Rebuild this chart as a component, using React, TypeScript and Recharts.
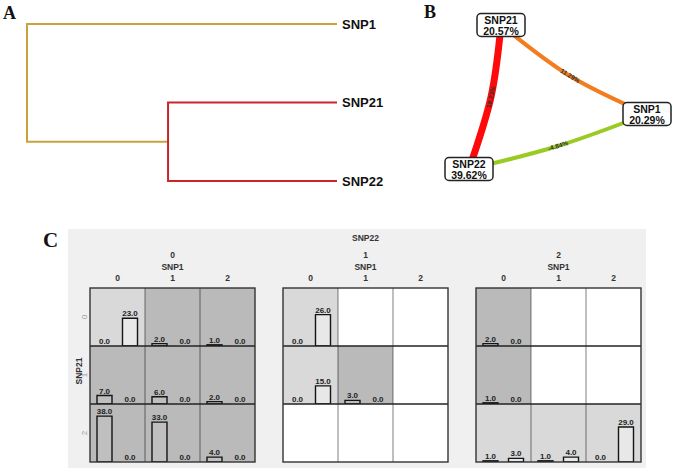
import {
  Bar,
  BarChart,
  Cell,
  ComposedChart,
  LabelList,
  Line,
  LineChart,
  Scatter,
  XAxis,
  YAxis,
} from "recharts";

// ---- A: dendrogram ----
const leafNames = ["SNP1", "SNP21", "SNP22"];
// distance at which (SNP21, SNP22) join, then the root join with SNP1
const joinHeights = [0.545, 1];

// ---- B: interaction graph ----
const nodeNames = ["SNP21", "SNP1", "SNP22"];
const nodeEntropy = ["20.57%", "20.29%", "39.62%"];
const edgePairs = [
  [0, 1],
  [0, 2],
  [2, 1],
];
const edgeGain = ["11.29%", "18.23%", "-4.84%"];

// graph layout (layout units, y grows downward)
const nodeLayout = [
  { x: 71, y: 25 },
  { x: 217, y: 114 },
  { x: 39, y: 169 },
];
const edgeBend = [
  { x: 140, y: 76 },
  { x: 61, y: 97 },
  { x: 128, y: 146 },
];
const EDGE_COLOR = ["#f27c1e", "#ff0a0a", "#9acb23"];
const EDGE_WIDTH = [4, 7, 4];

// ---- C: MDR cells, [SNP21 row][SNP1 col], null = no samples ----
const snp22Levels = ["0", "1", "2"];
const snp21Levels = ["0", "1", "2"];
const snp1Levels = ["0", "1", "2"];

const casesSnp22_0 = [
  [0, 2, 1],
  [7, 6, 2],
  [38, 33, 4],
];
const controlsSnp22_0 = [
  [23, 0, 0],
  [0, 0, 0],
  [0, 0, 0],
];
const casesSnp22_1 = [
  [0, null, null],
  [0, 3, null],
  [null, null, null],
];
const controlsSnp22_1 = [
  [26, null, null],
  [15, 0, null],
  [null, null, null],
];
const casesSnp22_2 = [
  [2, null, null],
  [1, null, null],
  [1, 1, 0],
];
const controlsSnp22_2 = [
  [0, null, null],
  [0, null, null],
  [3, 4, 29],
];

const cases = [casesSnp22_0, casesSnp22_1, casesSnp22_2];
const controls = [controlsSnp22_0, controlsSnp22_1, controlsSnp22_2];

const PANEL_LEFT = [90, 283, 476];
const GRID_TOP = 288;
const CELL_W = 55;
const CELL_H = 58;

const HIGH_RISK = "#bababa";
const LOW_RISK = "#d9d9d9";

const sum = (m: (number | null)[][][]) =>
  m.flat(2).reduce<number>((a, v) => a + (v ?? 0), 0);
const riskThreshold = sum(cases) / sum(controls);

function Dendrogram() {
  const inner = [
    { d: 0, y: 1 },
    { d: joinHeights[0], y: 1 },
    { d: joinHeights[0], y: 2 },
    { d: 0, y: 2 },
  ];
  const root = [
    { d: 0, y: 0 },
    { d: joinHeights[1], y: 0 },
    { d: joinHeights[1], y: 1.5 },
    { d: joinHeights[0], y: 1.5 },
  ];
  return (
    <div style={{ position: "absolute", left: 0, top: 0 }}>
      <LineChart width={400} height={200} margin={{ top: 24, right: 0, left: 27, bottom: 19 }}>
        <XAxis type="number" dataKey="d" domain={[0, 1]} reversed hide />
        <YAxis
          type="number"
          dataKey="y"
          domain={[0, 2]}
          reversed
          orientation="right"
          ticks={[0, 1, 2]}
          interval={0}
          tickFormatter={(i: number) => leafNames[i]}
          axisLine={false}
          tickLine={false}
          tickSize={0}
          tickMargin={5}
          width={63}
          tick={{ fill: "#111", fontSize: 13, fontWeight: "bold" }}
        />
        <Line data={root} dataKey="y" type="linear" stroke="#c9a23b" strokeWidth={2} dot={false} isAnimationActive={false} />
        <Line data={inner} dataKey="y" type="linear" stroke="#c8262c" strokeWidth={2} dot={false} isAnimationActive={false} />
      </LineChart>
    </div>
  );
}

function NodeBox(props: any) {
  const { cx, cy, payload } = props;
  const w = 48;
  const h = 23;
  return (
    <g>
      <rect x={cx - w / 2} y={cy - h / 2} width={w} height={h} rx={4} fill="#fff" stroke="#222" strokeWidth={1.5} />
      <text x={cx} y={cy - 1} textAnchor="middle" fontSize={10.5} fontWeight="bold" fill="#111">
        {payload.name}
      </text>
      <text x={cx} y={cy + 9.5} textAnchor="middle" fontSize={10.5} fontWeight="bold" fill="#111">
        {payload.entropy}
      </text>
    </g>
  );
}

function EdgeText(props: any) {
  const { cx, cy, payload } = props;
  let a = payload.angle;
  if (a > 90) a -= 180;
  if (a < -90) a += 180;
  return (
    <text
      x={cx}
      y={cy + 2}
      transform={`rotate(${a} ${cx} ${cy})`}
      textAnchor="middle"
      fontSize={6.5}
      fontWeight="bold"
      fill="#333"
    >
      {payload.label}
    </text>
  );
}

function Network() {
  const nodes = nodeNames.map((name, i) => ({ ...nodeLayout[i], name, entropy: nodeEntropy[i] }));
  const edgeLabels = edgePairs.map(([a, b], i) => {
    const p = nodeLayout[a];
    const q = nodeLayout[b];
    return {
      ...edgeBend[i],
      label: edgeGain[i],
      angle: (Math.atan2(q.y - p.y, q.x - p.x) * 180) / Math.PI,
    };
  });
  return (
    <div style={{ position: "absolute", left: 430, top: 0 }}>
      <ComposedChart width={246} height={200} margin={{ top: 0, right: 0, left: 0, bottom: 0 }}>
        <XAxis type="number" dataKey="x" domain={[0, 246]} hide />
        <YAxis type="number" dataKey="y" domain={[0, 200]} reversed hide />
        {edgePairs.map(([a, b], i) => (
          <Line
            key={i}
            data={[nodeLayout[a], edgeBend[i], nodeLayout[b]]}
            dataKey="y"
            type="natural"
            stroke={EDGE_COLOR[i]}
            strokeWidth={EDGE_WIDTH[i]}
            dot={false}
            isAnimationActive={false}
          />
        ))}
        <Scatter data={edgeLabels} dataKey="y" shape={<EdgeText />} isAnimationActive={false} />
        <Scatter data={nodes} dataKey="y" shape={<NodeBox />} isAnimationActive={false} />
      </ComposedChart>
    </div>
  );
}

function MdrCell({ p, r, c }: { p: number; r: number; c: number }) {
  const cs = cases[p][r][c];
  const ct = controls[p][r][c];
  const empty = cs == null || ct == null;
  const high = !empty && (ct === 0 ? cs! > 0 : cs! / ct! > riskThreshold);
  const bg = empty ? "#fff" : high ? HIGH_RISK : LOW_RISK;
  const data = empty ? [] : [
    { k: "cases", v: cs },
    { k: "controls", v: ct },
  ];
  return (
    <div
      style={{
        position: "absolute",
        left: PANEL_LEFT[p] + c * CELL_W,
        top: GRID_TOP + r * CELL_H,
        width: CELL_W,
        height: CELL_H,
        background: bg,
      }}
    >
      {!empty && (
        <BarChart width={CELL_W} height={CELL_H} data={data} margin={{ top: 0, right: 2, left: 2, bottom: 0 }}>
          <XAxis dataKey="k" hide />
          <YAxis domain={[0, 48]} hide />
          <Bar dataKey="v" barSize={15} minPointSize={0.3} stroke="#151515" strokeWidth={1.4} isAnimationActive={false}>
            {data.map((d) => (
              <Cell
                key={d.k}
                fill={d.k === "cases" ? "rgba(255,255,255,0.08)" : "rgba(255,255,255,0.4)"}
                stroke={d.v === 0 ? "none" : "#151515"}
              />
            ))}
            <LabelList
              dataKey="v"
              position="top"
              offset={2}
              fill="#222"
              fontSize={8}
              fontWeight="bold"
              formatter={(v: any) => Number(v).toFixed(1)}
            />
          </Bar>
        </BarChart>
      )}
    </div>
  );
}

export default function App() {
  const gridW = CELL_W * 3;
  const gridH = CELL_H * 3;
  return (
    <div
      style={{
        position: "absolute",
        left: 0,
        top: 0,
        width: 676,
        height: 469,
        background: "#fff",
        overflow: "hidden",
        fontFamily: '"Liberation Sans", Arial, sans-serif',
      }}
    >
      <Dendrogram />
      <Network />

      <div style={{ position: "absolute", left: 68, top: 229, width: 578, height: 239, background: "#f0f0f0" }} />
      {snp22Levels.map((_, p) =>
        snp21Levels.map((_, r) => snp1Levels.map((_, c) => <MdrCell key={`${p}-${r}-${c}`} p={p} r={r} c={c} />))
      )}

      <svg width={676} height={469} style={{ position: "absolute", left: 0, top: 0, pointerEvents: "none" }}>
        <g fontFamily='"Liberation Serif", "Times New Roman", serif' fontWeight="bold" fill="#111">
          <text x={3} y={19} fontSize={18}>A</text>
          <text x={424} y={18} fontSize={18}>B</text>
          <text x={43} y={247} fontSize={21}>C</text>
        </g>

        <g fontSize={8.5} fontWeight="bold" fill="#333" textAnchor="middle">
          <text x={PANEL_LEFT[1] + gridW / 2} y={241}>SNP22</text>
          {snp22Levels.map((lv, p) => (
            <g key={lv}>
              <text x={PANEL_LEFT[p] + gridW / 2} y={258}>{lv}</text>
              <text x={PANEL_LEFT[p] + gridW / 2} y={270}>SNP1</text>
              {snp1Levels.map((c, ci) => (
                <text key={c} x={PANEL_LEFT[p] + CELL_W * (ci + 0.5)} y={281}>
                  {c}
                </text>
              ))}
            </g>
          ))}
          <text x={81.5} y={GRID_TOP + gridH / 2 - 4} transform={`rotate(-90 81.5 ${GRID_TOP + gridH / 2 - 4})`}>
            SNP21
          </text>
        </g>
        {snp21Levels.map((lv, r) => {
          const y = GRID_TOP + CELL_H * (r + 0.5);
          return (
            <text key={lv} x={87} y={y} fontSize={8} fill="#9a9a9a" textAnchor="middle" transform={`rotate(-90 87 ${y})`}>
              {lv}
            </text>
          );
        })}

        {PANEL_LEFT.map((x0) => (
          <g key={x0}>
            {[1, 2].map((k) => (
              <line key={`v${k}`} x1={x0 + CELL_W * k} x2={x0 + CELL_W * k} y1={GRID_TOP} y2={GRID_TOP + gridH} stroke="rgba(0,0,0,0.5)" strokeWidth={1} />
            ))}
            {[1, 2].map((k) => (
              <line key={`h${k}`} x1={x0} x2={x0 + gridW} y1={GRID_TOP + CELL_H * k} y2={GRID_TOP + CELL_H * k} stroke="#222" strokeWidth={1.4} />
            ))}
            <rect x={x0} y={GRID_TOP} width={gridW} height={gridH} fill="none" stroke="#333" strokeWidth={1.4} />
          </g>
        ))}
      </svg>
    </div>
  );
}
